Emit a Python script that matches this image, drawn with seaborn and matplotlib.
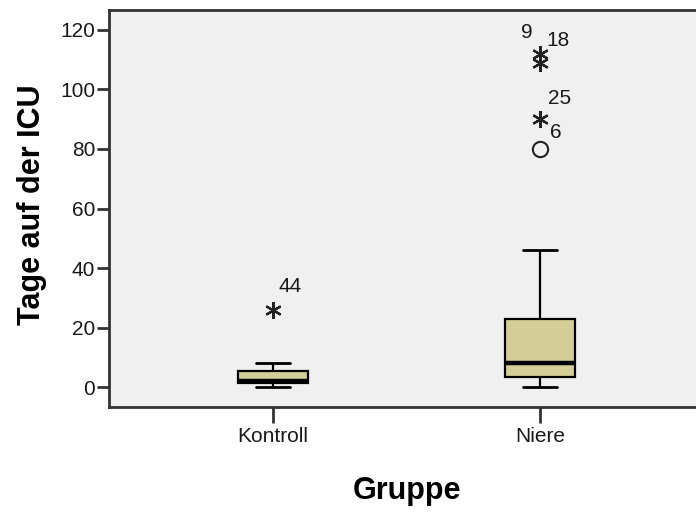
import numpy as np
import pandas as pd
import seaborn as sns
import matplotlib.pyplot as plt

# ---- data ----
groups = ["Kontroll", "Niere"]
kontroll_days = [0, 0, 1, 1, 1, 2, 2, 2, 2, 2, 3, 4, 5, 5, 6, 6, 7, 8, 26]
niere_days = [0, 1, 2, 2, 3, 3, 4, 5, 6, 7, 7, 8, 10, 12, 15, 18, 21, 25,
              46, 80, 90, 109, 112]
kontroll_outlier_ids = {26: "44"}
niere_outlier_ids = {80: "6", 90: "25", 109: "18", 112: "9"}
y_ticks = [0, 20, 40, 60, 80, 100, 120]

df = pd.DataFrame({
    "Gruppe": ["Kontroll"] * len(kontroll_days) + ["Niere"] * len(niere_days),
    "Tage": kontroll_days + niere_days,
})

sns.set_theme(style="white")
plt.rcParams["font.family"] = ["Liberation Sans", "DejaVu Sans"]
tick_size = 15

fig = plt.figure(figsize=(6.96, 5.18), dpi=100)
fig.patch.set_facecolor("white")
ax = fig.add_axes([109 / 696, 111 / 518, 595 / 696, 397 / 518])
ax.set_facecolor("#F0F0F0")

box_color = "#D3CE97"
sns.boxplot(data=df, x="Gruppe", y="Tage", order=groups, ax=ax,
            color=box_color, width=0.26, whis=1.5, showfliers=False,
            linewidth=1.6, linecolor="black",
            boxprops=dict(facecolor=box_color, edgecolor="black", linewidth=1.6),
            medianprops=dict(color="black", linewidth=3.2),
            whiskerprops=dict(color="black", linewidth=1.6),
            capprops=dict(color="black", linewidth=2.0),
            capwidths=0.13)

# outliers: circles (mild) and asterisks (extreme), SPSS style
offsets = {"9": (-13, 21), "18": (18, 22), "25": (20, 21), "6": (16, 16), "44": (17, 23)}
for gi, (vals, ids) in enumerate([(kontroll_days, kontroll_outlier_ids),
                                  (niere_days, niere_outlier_ids)]):
    arr = np.asarray(vals, dtype=float)
    q1, q3 = np.percentile(arr, [25, 75])
    iqr = q3 - q1
    for v, lab in ids.items():
        extreme = v > q3 + 3 * iqr or v < q1 - 3 * iqr
        if extreme:
            ax.plot(gi, v, marker=(6, 2, 0), markersize=12, color="#222222",
                    markeredgewidth=1.6, zorder=5)
        else:
            ax.plot(gi, v, marker="o", markersize=11, color="#222222",
                    markerfacecolor="none", markeredgewidth=1.5, zorder=5)
        dx, dy = offsets[lab]
        ax.annotate(lab, (gi, v), xytext=(dx, dy), textcoords="offset pixels",
                    ha="center", va="center", fontsize=tick_size, color="#1a1a1a")

ax.set_xlim(-0.614, 1.614)
ax.set_ylim(-6.7, 126.7)
ax.set_yticks(y_ticks)
ax.set_yticklabels([str(t) for t in y_ticks])

for s in ax.spines.values():
    s.set_color("#333333")
    s.set_linewidth(2.0)
    s.set_visible(True)

ax.tick_params(axis="y", direction="out", length=9, width=2, pad=1,
               labelsize=tick_size, colors="#333333", labelcolor="#1a1a1a", left=True)
ax.tick_params(axis="x", direction="out", length=11.5, width=2, pad=3,
               labelsize=tick_size, colors="#333333", labelcolor="#1a1a1a", bottom=True)

ax.set_xlabel("Gruppe", fontsize=22, fontweight="bold", color="black")
ax.set_ylabel("Tage auf der ICU", fontsize=22, fontweight="bold", color="black")
ax.xaxis.set_label_coords(0.5, -0.175)
ax.yaxis.set_label_coords(-0.105, 0.51)

fig.savefig("out.png", dpi=100, facecolor="white")
